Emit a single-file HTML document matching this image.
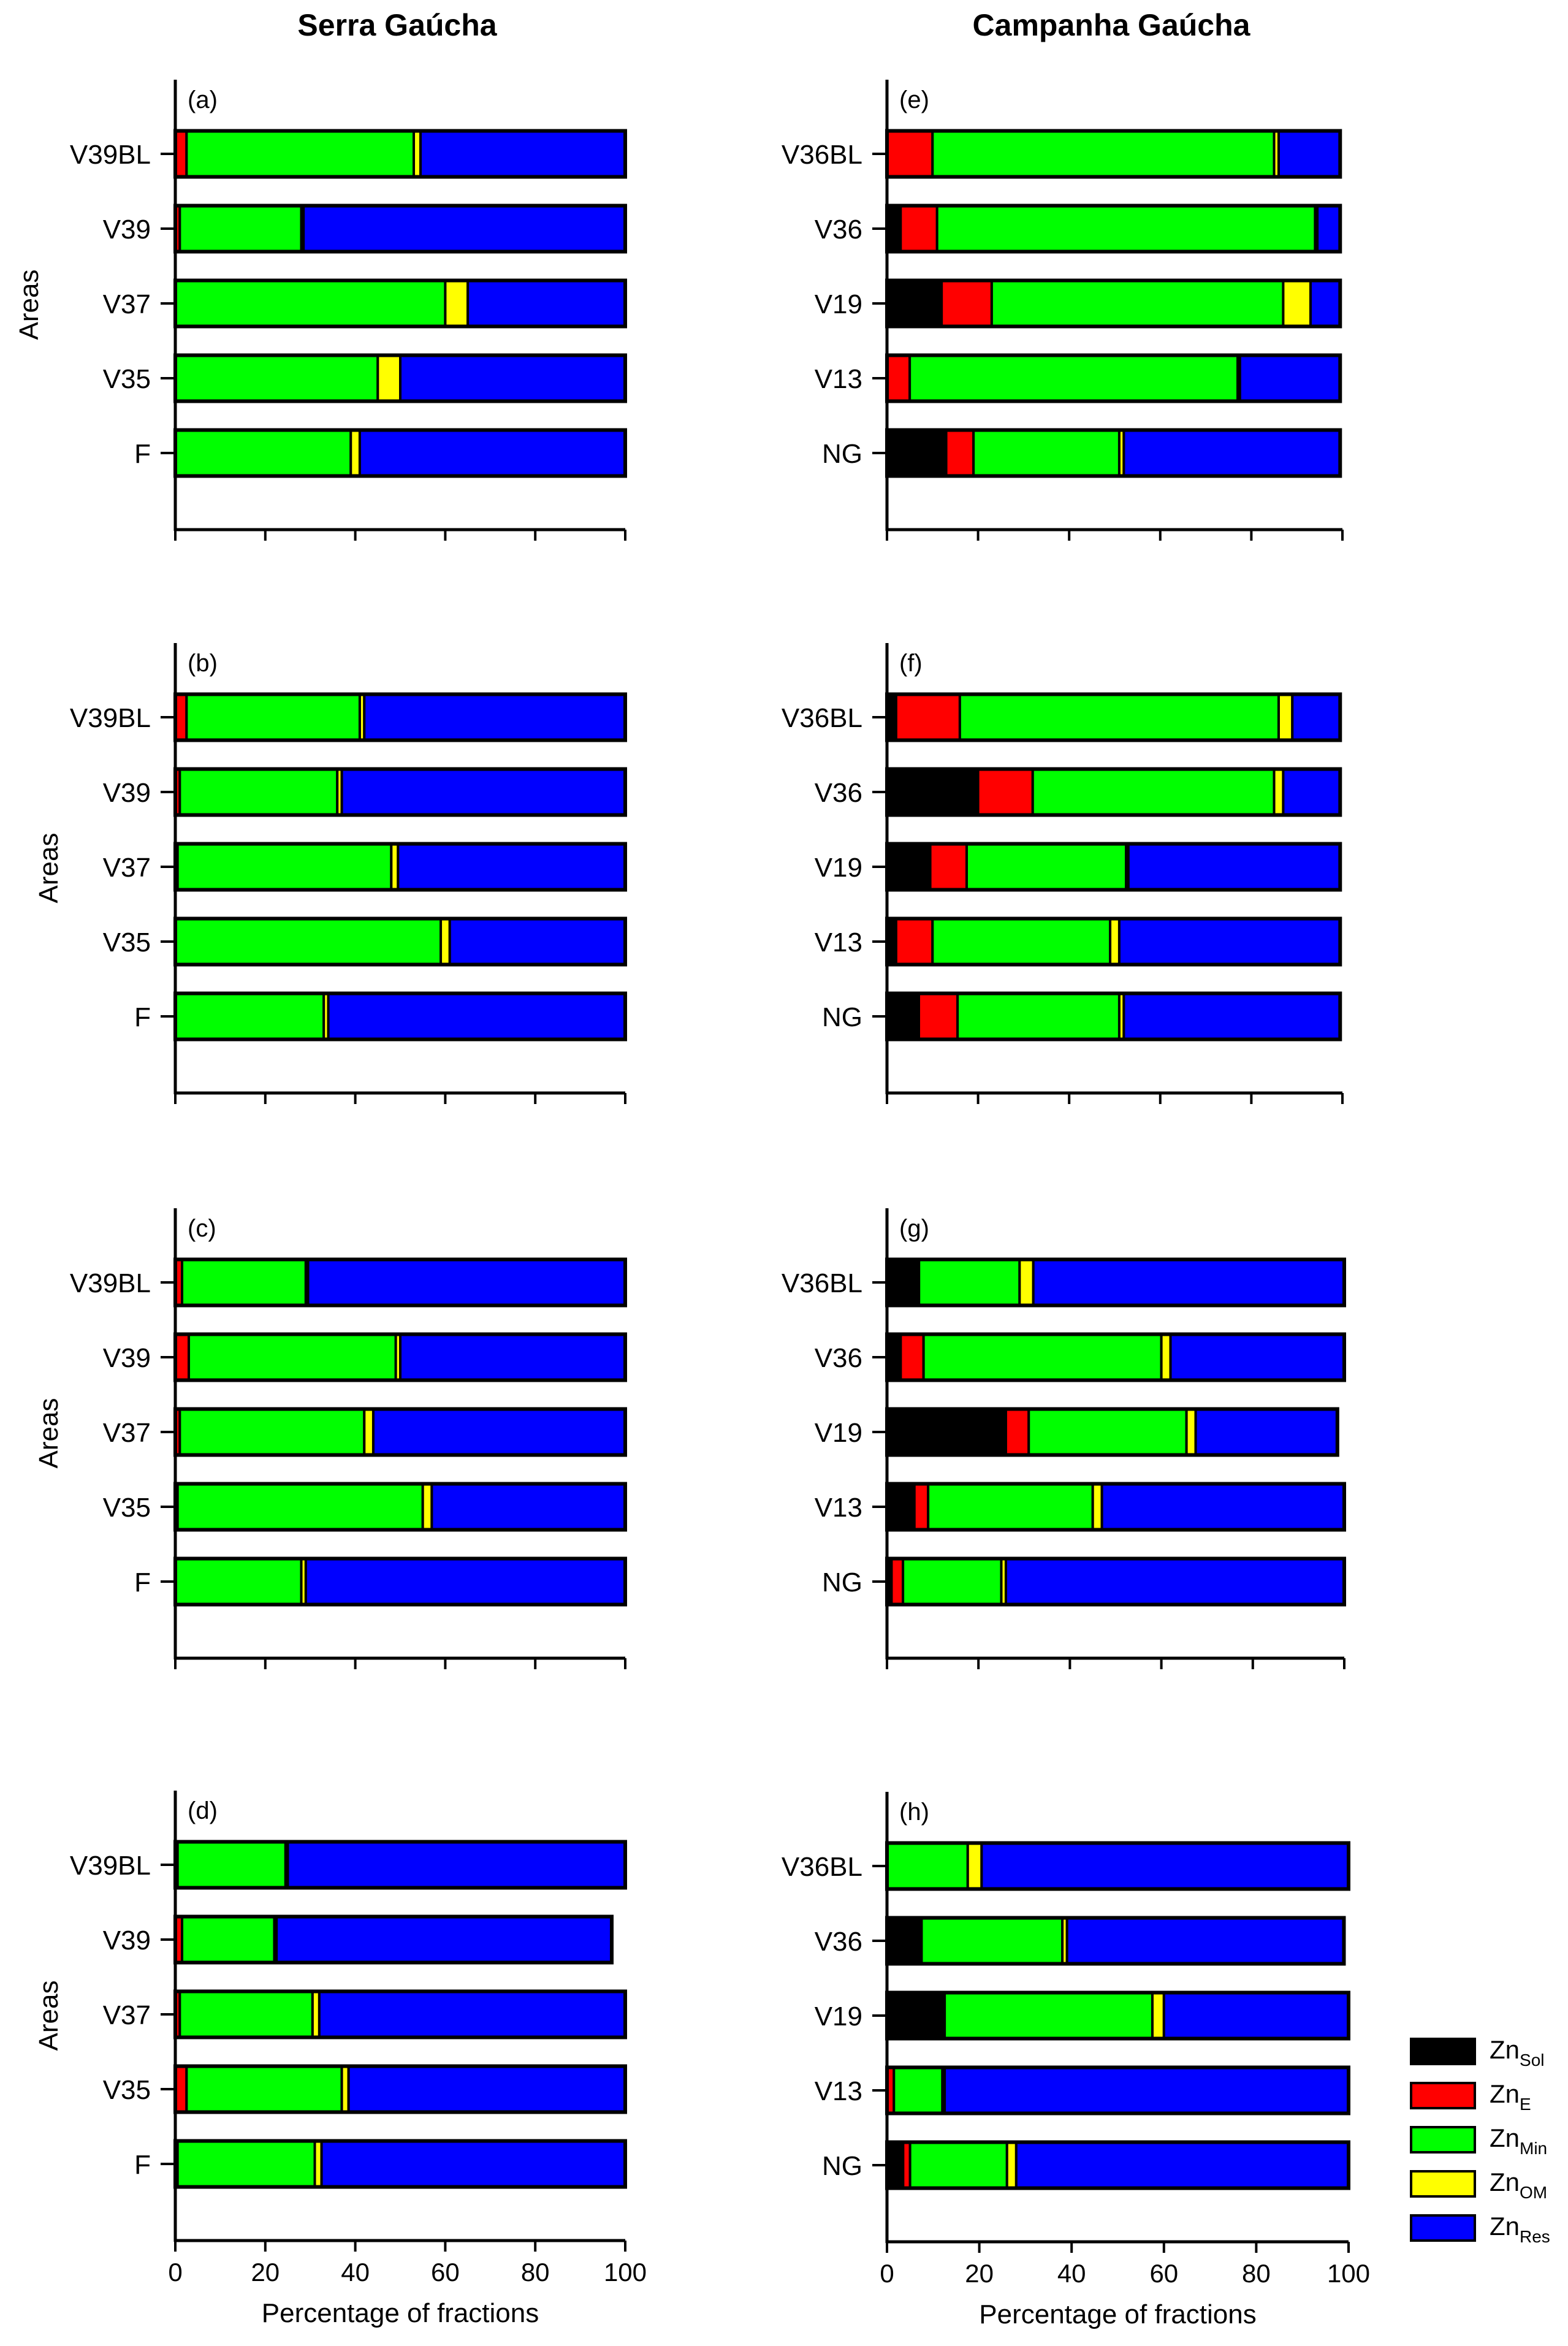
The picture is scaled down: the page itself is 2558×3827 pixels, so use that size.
<!DOCTYPE html>
<html><head><meta charset="utf-8"><style>
html,body{margin:0;padding:0;background:#fff;}
svg{display:block;font-family:"Liberation Sans",Arial,sans-serif;}
</style></head><body>
<svg id="chart" width="2558" height="3827" viewBox="0 0 2558 3827" xmlns="http://www.w3.org/2000/svg">
<text x="648" y="58" font-size="50" font-weight="bold" text-anchor="middle">Serra Gaúcha</text>
<text x="1813" y="58" font-size="50" font-weight="bold" text-anchor="middle">Campanha Gaúcha</text>
<g id="panels"></g>
<g id="legend"></g>
</svg>
<script>
const seriesNames = ["Sol","E","Min","OM","Res"];
const seriesColors = ["#000000","#ff0000","#00ff00","#ffff00","#0000ff"];
const leftCategories = ["V39BL","V39","V37","V35","F"];
const rightCategories = ["V36BL","V36","V19","V13","NG"];
const tickValues = [0,20,40,60,80,100];
const tickLabels = ["0","20","40","60","80","100"];
// values per bar: [Sol, E, Min, OM, Res]
const dataA = [[0,2.5,50.5,1.5,45.5],[0,1,27,0.5,71.5],[0,0,60,5,35],[0,0,45,5,50],[0,0,39,2,59]];
const dataB = [[0,2.5,38.5,1,58],[0,1,35,1,63],[0,0.5,47.5,1.5,50.5],[0,0,59,2,39],[0,0,33,1,66]];
const dataC = [[0,1.5,27.5,0.5,70.5],[0,3,46,1,50],[0,1,41,2,56],[0,0.5,54.5,2,43],[0,0,28,1,71]];
const dataD = [[0,0.5,24,0.5,75],[0,1.5,20.5,0.5,74.5],[0,1,29.5,1.5,68],[0,2.5,34.5,1.5,61.5],[0,0.5,30.5,1.5,67.5]];
const dataE = [[0,10,75,1,13.5],[3,8,83,0.5,5],[12,11,64,6,6.5],[0,5,72,0.5,22],[13,6,32,1,47.5]];
const dataF = [[2,14,70,3,10.5],[20,12,53,2,12.5],[9.5,8,35,0.5,46.5],[2,8,39,2,48.5],[7,8.5,35.5,1,47.5]];
const dataG = [[7,0,22,3,68],[3,5,52,2,38],[26,5,34.5,2,31],[6,3,36,2,53],[1,2.5,21.5,1,74]];
const dataH = [[0,0,17.5,3,79.5],[7.5,0,30.5,1,60],[12.5,0,45,2.5,40],[0,1.5,10.5,0.5,87.5],[3.5,1.5,21,2,72]];
const panelLetters = ["a","b","c","d","e","f","g","h"];

const NS="http://www.w3.org/2000/svg";
const root=document.getElementById("panels");
function mk(tag,attrs,parent){const e=document.createElementNS(NS,tag);for(const k in attrs)e.setAttribute(k,attrs[k]);(parent||root).appendChild(e);return e;}

const layouts=[
 {data:dataA,cats:leftCategories,x0:286,x1:1020,c0:251,bottom:false,areaX:62},
 {data:dataB,cats:leftCategories,x0:286,x1:1020,c0:1170,bottom:false,areaX:94},
 {data:dataC,cats:leftCategories,x0:286,x1:1020,c0:2092,bottom:false,areaX:94},
 {data:dataD,cats:leftCategories,x0:286,x1:1020,c0:3042,bottom:true,areaX:94},
 {data:dataE,cats:rightCategories,x0:1447,x1:2190,c0:251,bottom:false},
 {data:dataF,cats:rightCategories,x0:1447,x1:2190,c0:1170,bottom:false},
 {data:dataG,cats:rightCategories,x0:1447,x1:2193,c0:2092,bottom:false},
 {data:dataH,cats:rightCategories,x0:1447,x1:2200,c0:3044,bottom:true}
];
const step=122, barH=75;
layouts.forEach((L,pi)=>{
  const g=mk("g",{});
  
  
  const xs=v=>L.x0+(L.x1-L.x0)*v/100;
  const ys=i=>L.c0+i*step;
  const top=L.c0-121, bot=L.c0+4*step+125;
  const t=mk("text",{x:L.x0+20,y:top+46,"font-size":40},g);t.textContent="("+panelLetters[pi]+")";
  
  
  L.data.forEach((row,i)=>{
    const cy=ys(i);
    let acc=0;
    const total=row.reduce((a,b)=>a+b,0);
    row.forEach((v,s)=>{
      if(v<=0){return;}
      const r=mk("rect",{x:xs(acc),y:cy-barH/2,width:xs(acc+v)-xs(acc),height:barH,fill:seriesColors[s],stroke:"#000","stroke-width":4},g);
      
      
      acc+=v;
    });
    mk("rect",{x:xs(0),y:cy-barH/2,width:xs(total)-xs(0),height:barH,fill:"none",stroke:"#000","stroke-width":6},g);
    mk("line",{x1:L.x0-24,x2:L.x0,y1:cy,y2:cy,stroke:"#000","stroke-width":4},g);
    const lb=mk("text",{x:L.x0-40,y:cy+16,"font-size":44,"text-anchor":"end"},g);lb.textContent=L.cats[i];
    
    
  });
  mk("line",{x1:L.x0,x2:L.x0,y1:top,y2:bot+2,stroke:"#000","stroke-width":5},g);
  mk("line",{x1:L.x0,x2:L.x1,y1:bot,y2:bot,stroke:"#000","stroke-width":5},g);
  tickValues.forEach((tv,k)=>{
    mk("line",{x1:xs(tv),x2:xs(tv),y1:bot,y2:bot+18,stroke:"#000","stroke-width":4},g);
    if(L.bottom){const tl=mk("text",{x:xs(tv),y:bot+66,"font-size":42,"text-anchor":"middle"},g);tl.textContent=tickLabels[k];
      
      }
  });
  if(L.bottom){const xt=mk("text",{x:(L.x0+L.x1)/2,y:bot+133,"font-size":44,"text-anchor":"middle"},g);xt.textContent="Percentage of fractions";
    
    }
  if(L.areaX){const cyA=(top+bot)/2;const at=mk("text",{x:L.areaX,y:cyA,"font-size":44,"text-anchor":"middle",transform:"rotate(-90 "+L.areaX+" "+cyA+")"},g);at.textContent="Areas";
    
    }
});
const lg=document.getElementById("legend");
seriesNames.forEach((n,s)=>{
  const y=3326+s*72;
  const r=mk("rect",{x:2302,y:y,width:104,height:41,fill:seriesColors[s],stroke:"#000","stroke-width":4},lg);
  
  
  const t=mk("text",{x:2430,y:y+32,"font-size":42},lg);
  
  
  t.textContent="Zn";
  const sub=mk("tspan",{"font-size":28,dy:12},t);sub.textContent=n;
});
</script>
</body></html>
